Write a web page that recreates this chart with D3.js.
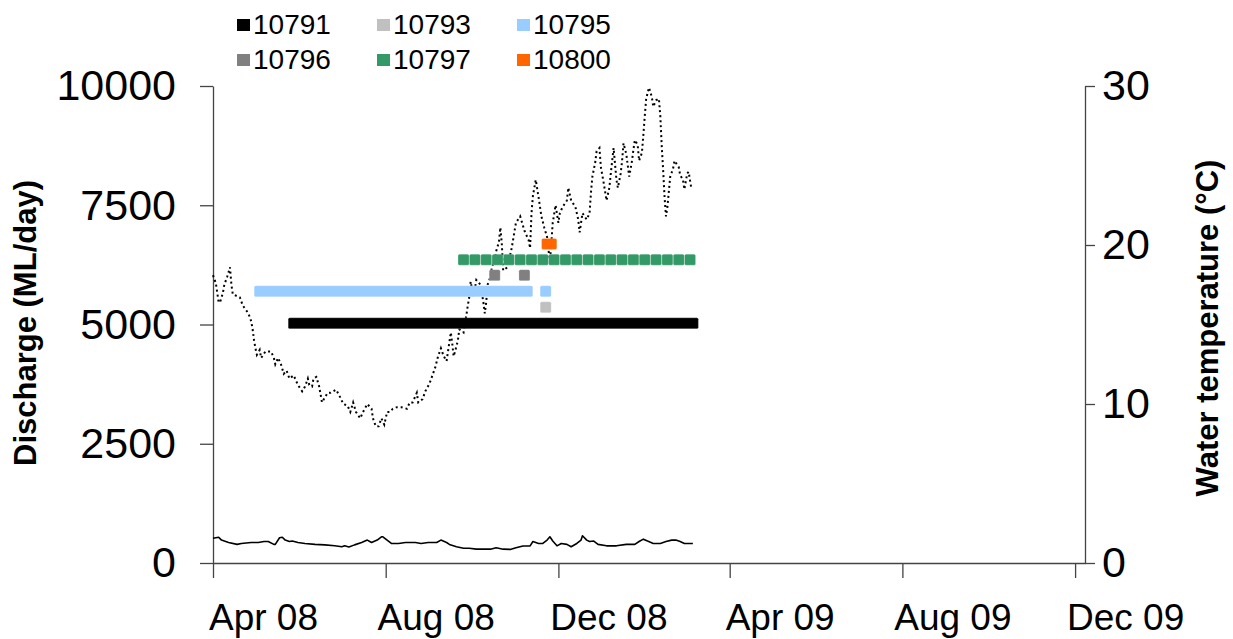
<!DOCTYPE html>
<html>
<head>
<meta charset="utf-8">
<script src="https://cdn.jsdelivr.net/npm/d3@7/dist/d3.min.js"></script>
<style>
  html, body { margin: 0; padding: 0; background: #fff; }
  svg { display: block; font-family: "Liberation Sans", Arial, Helvetica, sans-serif; }
</style>
</head>
<body>
<svg id="chart" width="1233" height="639"></svg>
<script>
// ---------------- DATA ----------------
const dischargeTicks = [0, 2500, 5000, 7500, 10000];
const temperatureTicks = [0, 10, 20, 30];
const dateTicks = ["2008-04-01", "2008-08-01", "2008-12-01", "2009-04-01", "2009-08-01", "2009-12-01"];
const dateDomain = ["2008-04-01", "2009-12-08"];

// Water temperature (°C), dotted line, right axis
const temperature = [
  ["2008-04-01",18.1],["2008-04-03",17.6],["2008-04-04",17.0],["2008-04-05",16.4],["2008-04-06",16.4],
  ["2008-04-08",17.0],["2008-04-09",17.5],["2008-04-11",18.0],["2008-04-13",18.6],["2008-04-14",17.5],
  ["2008-04-15",16.9],["2008-04-20",16.7],["2008-04-22",16.2],["2008-04-26",15.7],["2008-04-28",15.2],
  ["2008-04-29",14.7],["2008-04-30",14.0],["2008-05-01",13.5],["2008-05-02",13.1],["2008-05-04",13.4],
  ["2008-05-05",12.9],["2008-05-08",13.3],["2008-05-12",13.3],["2008-05-14",12.9],["2008-05-15",12.5],
  ["2008-05-17",12.9],["2008-05-19",12.5],["2008-05-21",11.9],["2008-05-23",12.1],["2008-05-25",11.6],
  ["2008-05-28",11.8],["2008-05-31",11.2],["2008-06-03",10.8],["2008-06-05",11.1],["2008-06-07",11.6],
  ["2008-06-08",11.2],["2008-06-10",11.1],["2008-06-11",11.6],["2008-06-13",11.7],["2008-06-15",11.1],
  ["2008-06-17",10.1],["2008-06-19",10.4],["2008-06-21",10.7],["2008-06-23",10.7],["2008-06-27",10.9],
  ["2008-06-30",10.4],["2008-07-02",10.0],["2008-07-05",9.9],["2008-07-07",9.5],["2008-07-09",10.1],
  ["2008-07-11",9.5],["2008-07-14",9.1],["2008-07-16",9.5],["2008-07-19",10.0],["2008-07-22",9.7],
  ["2008-07-23",9.1],["2008-07-25",8.6],["2008-07-27",8.6],["2008-07-29",9.1],["2008-07-31",8.7],
  ["2008-08-02",9.5],["2008-08-04",9.5],["2008-08-06",9.7],["2008-08-09",9.8],["2008-08-12",9.8],
  ["2008-08-16",9.7],["2008-08-18",10.1],["2008-08-20",10.1],["2008-08-23",10.7],["2008-08-24",10.1],
  ["2008-08-27",10.3],["2008-08-29",10.8],["2008-09-01",11.3],["2008-09-03",11.8],["2008-09-05",12.3],
  ["2008-09-07",13.0],["2008-09-09",13.5],["2008-09-11",13.0],["2008-09-13",12.7],["2008-09-14",13.3],
  ["2008-09-15",13.9],["2008-09-16",14.5],["2008-09-17",13.8],["2008-09-18",13.0],["2008-09-19",13.3],
  ["2008-09-21",14.0],["2008-09-22",14.7],["2008-09-25",14.5],["2008-09-27",15.6],["2008-09-28",16.2],
  ["2008-09-29",16.7],["2008-09-30",17.7],["2008-10-02",16.7],["2008-10-04",17.8],["2008-10-07",17.5],
  ["2008-10-09",16.4],["2008-10-10",15.7],["2008-10-11",16.4],["2008-10-12",17.5],["2008-10-14",18.0],
  ["2008-10-15",18.6],["2008-10-17",19.1],["2008-10-18",19.6],["2008-10-20",20.2],["2008-10-21",21.1],
  ["2008-10-22",20.1],["2008-10-23",18.4],["2008-10-26",18.6],["2008-10-29",19.8],["2008-11-01",21.4],
  ["2008-11-04",21.8],["2008-11-07",20.9],["2008-11-10",20.3],["2008-11-11",19.8],["2008-11-12",22.0],
  ["2008-11-13",23.1],["2008-11-15",24.1],["2008-11-17",23.0],["2008-11-19",21.8],["2008-11-21",21.1],
  ["2008-11-23",20.5],["2008-11-25",18.9],["2008-11-27",21.4],["2008-11-29",22.5],["2008-12-01",21.4],
  ["2008-12-02",22.0],["2008-12-04",22.4],["2008-12-07",22.8],["2008-12-08",23.6],["2008-12-10",22.8],
  ["2008-12-13",22.4],["2008-12-15",21.6],["2008-12-16",20.8],["2008-12-18",22.0],["2008-12-21",21.6],
  ["2008-12-23",22.0],["2008-12-24",23.3],["2008-12-25",24.3],["2008-12-27",25.2],["2008-12-28",25.9],
  ["2008-12-30",26.1],["2008-12-31",24.9],["2009-01-02",23.9],["2009-01-04",22.8],["2009-01-06",23.6],
  ["2009-01-07",24.5],["2009-01-08",25.3],["2009-01-09",26.1],["2009-01-11",24.1],["2009-01-12",23.6],
  ["2009-01-14",24.5],["2009-01-15",25.3],["2009-01-16",26.4],["2009-01-18",25.7],["2009-01-20",24.3],
  ["2009-01-22",25.3],["2009-01-23",26.0],["2009-01-24",26.6],["2009-01-26",26.3],["2009-01-27",25.3],
  ["2009-01-29",25.8],["2009-01-30",26.9],["2009-01-31",28.1],["2009-02-01",29.2],["2009-02-03",29.9],
  ["2009-02-05",29.3],["2009-02-06",28.7],["2009-02-08",29.1],["2009-02-10",29.2],["2009-02-11",28.1],
  ["2009-02-12",26.2],["2009-02-13",24.7],["2009-02-14",23.0],["2009-02-15",21.8],["2009-02-16",22.4],
  ["2009-02-18",24.3],["2009-02-20",24.8],["2009-02-21",25.3],["2009-02-24",24.9],["2009-02-25",24.4],
  ["2009-02-27",24.1],["2009-02-28",23.5],["2009-03-02",24.5],["2009-03-03",24.6],["2009-03-05",23.5]
];

// Discharge (ML/day), solid line, left axis
const discharge = [
  ["2008-04-01",520],["2008-04-05",540],["2008-04-07",480],["2008-04-12",430],["2008-04-18",390],
  ["2008-04-21",410],["2008-04-28",430],["2008-05-03",430],["2008-05-07",450],["2008-05-10",450],
  ["2008-05-14",390],["2008-05-15",390],["2008-05-18",530],["2008-05-20",540],["2008-05-22",480],
  ["2008-05-25",450],["2008-05-27",460],["2008-05-31",430],["2008-06-05",410],["2008-06-12",390],
  ["2008-06-19",380],["2008-06-26",360],["2008-07-01",340],["2008-07-03",360],["2008-07-06",335],
  ["2008-07-10",380],["2008-07-15",430],["2008-07-19",480],["2008-07-22",430],["2008-07-26",480],
  ["2008-07-29",550],["2008-07-30",550],["2008-08-02",480],["2008-08-05",410],["2008-08-10",410],
  ["2008-08-15",430],["2008-08-22",430],["2008-08-26",410],["2008-08-31",430],["2008-09-06",430],
  ["2008-09-09",480],["2008-09-13",430],["2008-09-15",390],["2008-09-20",340],["2008-09-25",310],
  ["2008-09-29",310],["2008-10-04",290],["2008-10-09",290],["2008-10-14",290],["2008-10-18",320],
  ["2008-10-23",290],["2008-10-28",285],["2008-11-01",320],["2008-11-06",355],["2008-11-11",360],
  ["2008-11-13",450],["2008-11-17",410],["2008-11-20",410],["2008-11-23",480],["2008-11-25",550],
  ["2008-11-27",460],["2008-11-30",360],["2008-12-03",410],["2008-12-07",390],["2008-12-10",340],
  ["2008-12-14",410],["2008-12-17",480],["2008-12-18",570],["2008-12-21",480],["2008-12-23",450],
  ["2008-12-26",460],["2008-12-29",390],["2009-01-04",360],["2009-01-11",360],["2009-01-18",390],
  ["2009-01-24",390],["2009-01-27",450],["2009-01-30",500],["2009-02-02",460],["2009-02-06",410],
  ["2009-02-11",410],["2009-02-15",450],["2009-02-19",480],["2009-02-22",480],["2009-02-25",450],
  ["2009-02-28",410],["2009-03-04",410],["2009-03-06",410]
];

// Tag detections: receiver ids, plotting level (discharge axis) and detection periods [start, end]
const receivers = ["10791", "10793", "10795", "10796", "10797", "10800"];
const receiverLevels = [5025, 5360, 5695, 6035, 6360, 6690];
const det10791 = [["2008-05-28", "2009-03-06"]];
const det10793 = [["2008-11-22", "2008-11-22"]];
const det10795 = [["2008-05-04", "2008-11-09"], ["2008-11-22", "2008-11-22"]];
const det10796 = [["2008-10-17", "2008-10-17"], ["2008-11-07", "2008-11-07"]];
const det10797 = [
  ["2008-09-25","2008-09-25"],["2008-10-03","2008-10-03"],["2008-10-11","2008-10-11"],["2008-10-19","2008-10-19"],
  ["2008-10-27","2008-10-27"],["2008-11-04","2008-11-04"],["2008-11-12","2008-11-12"],["2008-11-20","2008-11-20"],
  ["2008-11-28","2008-11-28"],["2008-12-06","2008-12-06"],["2008-12-14","2008-12-14"],["2008-12-22","2008-12-22"],
  ["2008-12-30","2008-12-30"],["2009-01-07","2009-01-07"],["2009-01-15","2009-01-15"],["2009-01-23","2009-01-23"],
  ["2009-01-31","2009-01-31"],["2009-02-08","2009-02-08"],["2009-02-16","2009-02-16"],["2009-02-24","2009-02-24"],
  ["2009-03-04","2009-03-04"]
];
const det10800 = [["2008-11-23", "2008-11-26"]];
const detections = [det10791, det10793, det10795, det10796, det10797, det10800];

// ---------------- STYLE ----------------
const receiverColors = ["#000000", "#c0c0c0", "#99ccff", "#808080", "#339966", "#ff6600"];
const axisColor = "#444";

// ---------------- CHART ----------------
const parse = d3.utcParse("%Y-%m-%d");
const svg = d3.select("#chart");
svg.append("rect").attr("width", 1233).attr("height", 639).attr("fill", "#fff");

const x = d3.scaleUtc().domain(dateDomain.map(parse)).range([213, 1085]);
const yL = d3.scaleLinear().domain([0, 10000]).range([563, 86]);
const yR = d3.scaleLinear().domain([0, 30]).range([563, 86]);

// Axes
const gL = svg.append("g").attr("transform", "translate(213,0)")
  .call(d3.axisLeft(yL).tickValues(dischargeTicks).tickSize(13).tickPadding(24).tickSizeOuter(0).tickFormat(d3.format("d")));
const gR = svg.append("g").attr("transform", "translate(1085,0)")
  .call(d3.axisRight(yR).tickValues(temperatureTicks).tickSize(10).tickPadding(7).tickSizeOuter(0).tickFormat(d3.format("d")));
const gB = svg.append("g").attr("transform", "translate(0,563)")
  .call(d3.axisBottom(x).tickValues(dateTicks.map(parse)).tickSize(15).tickPadding(26).tickSizeOuter(0).tickFormat(d3.utcFormat("%b %y")));
gB.selectAll(".tick text").attr("dx", 50);

[gL, gR].forEach(g => g.selectAll("text").attr("font-size", 43));
gB.selectAll("text").attr("font-size", 37);
[gL, gR, gB].forEach(g => {
  g.attr("font-family", null);
  g.selectAll("text").attr("fill", "#000");
  g.selectAll("line").attr("stroke", axisColor).attr("stroke-width", 1.3);
  g.select(".domain").attr("stroke", axisColor).attr("stroke-width", 1.3);
});

// Axis titles
svg.append("text")
  .attr("transform", "translate(36,323) rotate(-90)")
  .attr("text-anchor", "middle").attr("font-weight", "bold").attr("font-size", 31)
  .text("Discharge (ML/day)");
svg.append("text")
  .attr("transform", "translate(1218,328) rotate(-90)")
  .attr("text-anchor", "middle").attr("font-weight", "bold").attr("font-size", 31)
  .text("Water temperature (°C)");

// Discharge line
svg.append("path")
  .datum(discharge)
  .attr("fill", "none").attr("stroke", "#000").attr("stroke-width", 1.6)
  .attr("stroke-linejoin", "round")
  .attr("d", d3.line().x(d => x(parse(d[0]))).y(d => yL(d[1])));

// Temperature dotted line
svg.append("path")
  .datum(temperature)
  .attr("fill", "none").attr("stroke", "#000").attr("stroke-width", 2)
  .attr("stroke-dasharray", "2,3")
  .attr("d", d3.line().x(d => x(parse(d[0]))).y(d => yR(d[1])));

// Detection markers
const ms = 11;
receivers.forEach((r, i) => {
  svg.append("g").selectAll("rect")
    .data(detections[i])
    .join("rect")
    .attr("x", d => x(parse(d[0])) - ms / 2)
    .attr("width", d => x(parse(d[1])) - x(parse(d[0])) + ms)
    .attr("y", yL(receiverLevels[i]) - ms / 2)
    .attr("height", ms)
    .attr("rx", 1.5)
    .attr("fill", receiverColors[i])
    .attr("stroke", "#fff").attr("stroke-opacity", 0.35).attr("stroke-width", 0.6);
});

// Legend
const legend = svg.append("g").selectAll("g")
  .data(receivers)
  .join("g")
  .attr("transform", (d, i) => `translate(${237 + (i % 3) * 140},${(Math.floor(i / 3)) * 35})`);
legend.append("rect")
  .attr("x", 0).attr("y", 19).attr("width", 13).attr("height", 12)
  .attr("fill", (d, i) => receiverColors[i]);
legend.append("text")
  .attr("x", 16).attr("y", 33.5).attr("font-size", 28).attr("fill", "#000")
  .text(d => d);
</script>
</body>
</html>
